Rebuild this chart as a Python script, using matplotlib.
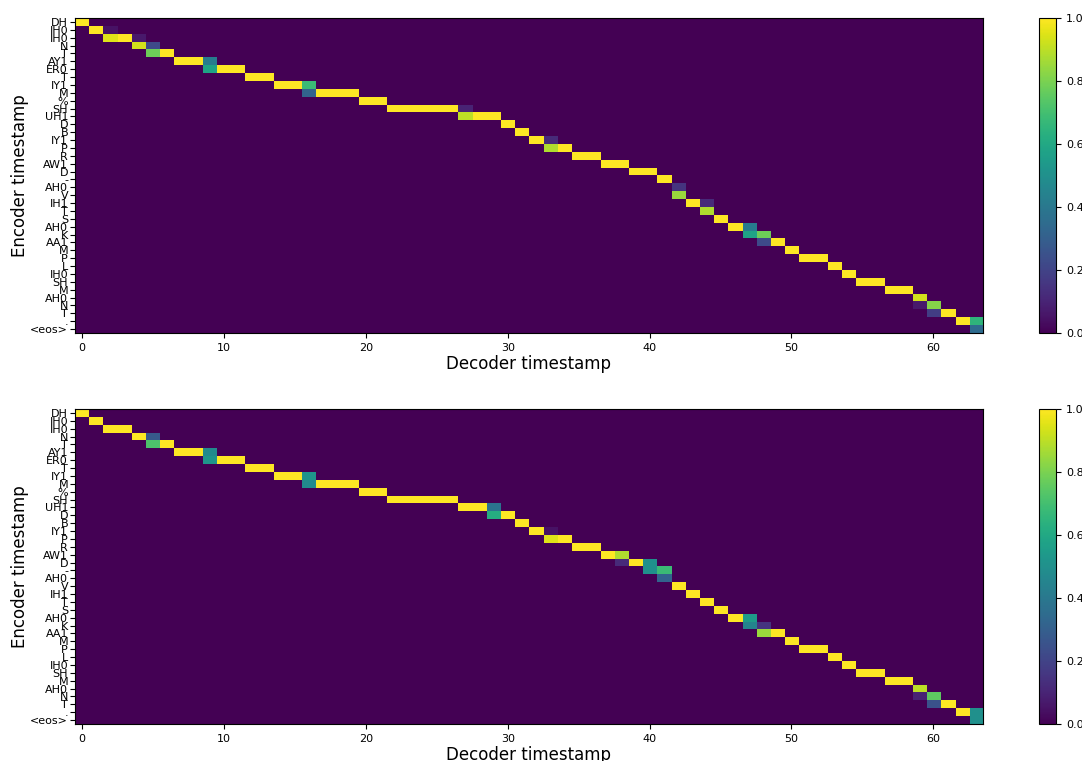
import numpy as np
import matplotlib
matplotlib.use("Agg")
import matplotlib.pyplot as plt

# Encoder tokens (phonemes of the input sentence)
encoder_labels = ["DH", "IH0", "IH0", "N", "T", "AY1", "ER0", "T", "IY1", "M",
                  "%", "SH", "UH1", "D", "B", "IY1", "P", "R", "AW1", "D",
                  "-", "AH0", "V", "IH1", "T", "S", "AH0", "K", "AA1", "M",
                  "P", "L", "IH0", "SH", "M", "AH0", "N", "T", ".", "<eos>"]
n_decoder = 64
decoder_ticks = [0, 10, 20, 30, 40, 50, 60]

# Attention weights as (encoder index, decoder step, weight); unlisted cells are 0
attention_top = [
    (0, 0, 1.0), (1, 1, 1.0), (1, 2, 0.05), (2, 2, 0.95), (2, 3, 1.0),
    (2, 4, 0.07), (3, 4, 0.93), (3, 5, 0.22), (4, 5, 0.78), (4, 6, 1.0),
    (5, 7, 1.0), (5, 8, 1.0), (5, 9, 0.42), (6, 9, 0.58), (6, 10, 1.0), (6, 11, 1.0),
    (7, 12, 1.0), (7, 13, 1.0), (8, 14, 1.0), (8, 15, 1.0), (8, 16, 0.68), (9, 16, 0.32),
    (9, 17, 1.0), (9, 18, 1.0), (9, 19, 1.0), (10, 20, 1.0), (10, 21, 1.0),
    (11, 22, 1.0), (11, 23, 1.0), (11, 24, 1.0), (11, 25, 1.0), (11, 26, 1.0),
    (11, 27, 0.1), (12, 27, 0.9), (12, 28, 1.0), (12, 29, 1.0), (13, 30, 1.0),
    (14, 31, 1.0), (15, 32, 1.0), (15, 33, 0.12), (16, 33, 0.88), (16, 34, 1.0),
    (17, 35, 1.0), (17, 36, 1.0), (18, 37, 1.0), (18, 38, 1.0), (19, 39, 1.0), (19, 40, 1.0),
    (20, 41, 1.0), (21, 42, 0.15), (22, 42, 0.85), (23, 43, 1.0), (23, 44, 0.12), (24, 44, 0.88),
    (25, 45, 1.0), (26, 46, 1.0), (26, 47, 0.42), (27, 47, 0.58), (27, 48, 0.78), (28, 48, 0.22),
    (28, 49, 1.0), (29, 50, 1.0), (30, 51, 1.0), (30, 52, 1.0), (31, 53, 1.0), (32, 54, 1.0),
    (33, 55, 1.0), (33, 56, 1.0), (34, 57, 1.0), (34, 58, 1.0), (35, 59, 0.93), (36, 59, 0.07),
    (36, 60, 0.82), (37, 60, 0.18), (37, 61, 1.0), (38, 62, 1.0), (38, 63, 0.65), (39, 63, 0.35),
]

attention_bottom = [
    (0, 0, 1.0), (1, 1, 1.0), (2, 2, 1.0), (2, 3, 1.0),
    (3, 4, 1.0), (3, 5, 0.28), (4, 5, 0.72), (4, 6, 1.0),
    (5, 7, 1.0), (5, 8, 1.0), (5, 9, 0.48), (6, 9, 0.52), (6, 10, 1.0), (6, 11, 1.0),
    (7, 12, 1.0), (7, 13, 1.0), (8, 14, 1.0), (8, 15, 1.0), (8, 16, 0.52), (9, 16, 0.48),
    (9, 17, 1.0), (9, 18, 1.0), (9, 19, 1.0), (10, 20, 1.0), (10, 21, 1.0),
    (11, 22, 1.0), (11, 23, 1.0), (11, 24, 1.0), (11, 25, 1.0), (11, 26, 1.0),
    (12, 27, 1.0), (12, 28, 1.0), (12, 29, 0.38), (13, 29, 0.62), (13, 30, 1.0),
    (14, 31, 1.0), (15, 32, 1.0), (15, 33, 0.05), (16, 33, 0.95), (16, 34, 1.0),
    (17, 35, 1.0), (17, 36, 1.0), (18, 37, 1.0), (18, 38, 0.88), (19, 38, 0.12),
    (19, 39, 1.0), (19, 40, 0.5), (20, 40, 0.5), (20, 41, 0.68), (21, 41, 0.32),
    (22, 42, 1.0), (23, 43, 1.0), (24, 44, 1.0), (25, 45, 1.0),
    (26, 46, 1.0), (26, 47, 0.55), (27, 47, 0.45), (27, 48, 0.15), (28, 48, 0.85),
    (28, 49, 1.0), (29, 50, 1.0), (30, 51, 1.0), (30, 52, 1.0), (31, 53, 1.0), (32, 54, 1.0),
    (33, 55, 1.0), (33, 56, 1.0), (34, 57, 1.0), (34, 58, 1.0), (35, 59, 0.9), (36, 59, 0.1),
    (36, 60, 0.75), (37, 60, 0.25), (37, 61, 1.0), (38, 62, 1.0), (38, 63, 0.5), (39, 63, 0.5),
]


def build_matrix(cells):
    mat = np.zeros((len(encoder_labels), n_decoder))
    for enc, dec, w in cells:
        mat[enc, dec] = w
    return mat


fig = plt.figure(figsize=(10.82, 7.61), dpi=100)

panels = [
    (attention_top, 0.5624),
    (attention_bottom, 0.0486),
]
for cells, bottom in panels:
    ax = fig.add_axes([0.0693, bottom, 0.8392, 0.4139])
    cax = fig.add_axes([0.9603, bottom, 0.0157, 0.4139])
    im = ax.imshow(build_matrix(cells), aspect="auto", origin="upper",
                   cmap="viridis", vmin=0.0, vmax=1.0)
    ax.set_yticks(range(len(encoder_labels)))
    ax.set_yticklabels(encoder_labels, fontsize=8)
    ax.tick_params(axis="y", pad=1.5)
    ax.set_xticks(decoder_ticks)
    ax.tick_params(axis="x", labelsize=8)
    ax.set_xlabel("Decoder timestamp", fontsize=12, labelpad=1.5)
    ax.set_ylabel("Encoder timestamp", fontsize=12, labelpad=1)
    cb = fig.colorbar(im, cax=cax)
    cb.set_ticks([0.0, 0.2, 0.4, 0.6, 0.8, 1.0])
    cb.ax.tick_params(labelsize=8)

fig.savefig("out.png", dpi=100)
